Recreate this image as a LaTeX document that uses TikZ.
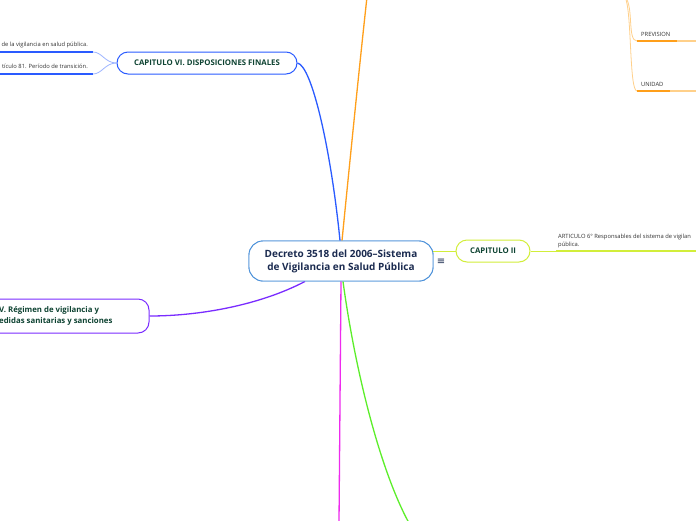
\documentclass[tikz,border=0pt]{standalone}
\usepackage{fontspec}
\setmainfont{Open Sans}
\newfontfamily\symfont{DejaVu Sans}
\definecolor{cblue}{HTML}{4A90D9}
\definecolor{navy}{HTML}{1B2B50}
\definecolor{dgreen}{HTML}{0E4332}
\definecolor{bblue}{HTML}{2A5BFF}
\definecolor{lblue}{HTML}{9DB4FF}
\definecolor{orng}{HTML}{FF9F1A}
\definecolor{lorng}{HTML}{FFD08A}
\definecolor{purp}{HTML}{7A2CFF}
\definecolor{magn}{HTML}{EE2AEE}
\definecolor{grn}{HTML}{5CEE2A}
\definecolor{ygrn}{HTML}{D2EE3A}
\definecolor{tgray}{HTML}{333333}
\tikzset{
  mainbox/.style={draw=cblue, line width=0.9pt, rounded corners=14pt, fill=white,
    minimum width=184pt, minimum height=40pt, align=center, text=navy,
    font=\fontsize{10}{13}\selectfont\bfseries, inner sep=2pt},
  chapbox/.style={rounded corners=11pt, fill=white, line width=1pt,
    text=dgreen, font=\fontsize{7.8}{10}\selectfont\bfseries, inner sep=2pt},
  smalltext/.style={font=\fontsize{5.8}{8}\selectfont, text=tgray, inner sep=0pt, align=left},
  branch/.style={line width=1.3pt},
}
\begin{document}
\begin{tikzpicture}[x=1pt,y=-1pt]
\useasboundingbox[fill=white] (0,0) rectangle (696,520);
% connectors from centre
\coordinate (otop) at (367,-3);
\coordinate (mbot) at (339,523);
\coordinate (gbot) at (409,523);
\node[mainbox] (c) at (341,261) {Decreto 3518 del 2006--Sistema\\de Vigilancia en Salud Pública};
\node[chapbox, draw=ygrn, minimum width=74pt, minimum height=22pt] (cap2) at (493,251) {CAPITULO II};
\node[chapbox, draw=bblue, minimum width=180pt, minimum height=22pt] (cap6) at (207,63) {CAPITULO VI.\ DISPOSICIONES FINALES};
\node[chapbox, draw=purp, minimum width=190pt, minimum height=34pt] (cap5) at (54,316) {};
\node[font=\fontsize{7.8}{11.5}\selectfont\bfseries, text=dgreen, align=left, anchor=west, inner sep=0pt] (cap5t) at (-1,316) {V. Régimen de vigilancia y\\edidas sanitarias y sanciones};

\draw[branch, orng] ([xshift=1pt]c.north) .. controls (350,160) and (360,60) .. (otop);
\draw[branch, bblue] (cap6.east) .. controls (312,66) and (331,150) .. ([xshift=-1pt]c.north);
\draw[branch, purp] (cap5.east) .. controls (200,316) and (260,305) .. ([xshift=-36pt]c.south);
\draw[branch, magn] (c.south) -- (mbot);
\draw[branch, grn] ([xshift=2pt]c.south) .. controls (355,370) and (380,470) .. (gbot);
\draw[ygrn, line width=0.8pt] ([yshift=10pt]c.east) -- (cap2.west);
% redraw centre box over lines
\node[mainbox] at (c) {Decreto 3518 del 2006--Sistema\\de Vigilancia en Salud Pública};
\node[font=\symfont\fontsize{10}{10}\selectfont, text=navy, inner sep=0pt] (menu) at (441,262) {≡};

% CAPITULO II child
\coordinate (a1) at (556,251);
\coordinate (a2) at (697,251);
\draw[ygrn, line width=0.8pt] (cap2.east) -- (a1);
\draw[ygrn, line width=1.5pt] (a1) -- (a2);
\node[smalltext, anchor=south west] (art6) at (558,248) {ARTICULO 6° Responsables del sistema de vigilan\\pública.};

% CAPITULO VI children
\coordinate (u1a) at (-1,52);
\coordinate (u1b) at (93,52);
\coordinate (u2a) at (-1,74);
\coordinate (u2b) at (93,74);
\draw[bblue, line width=1.3pt] (u1a) -- (u1b);
\draw[bblue, line width=1.3pt] (u2a) -- (u2b);
\draw[lblue, line width=0.8pt] (cap6.west) .. controls (105,63) and (102,52) .. (u1b);
\draw[lblue, line width=0.8pt] (cap6.west) .. controls (105,63) and (102,74) .. (u2b);
\node[smalltext, anchor=east] (t61) at (88,45) {de la vigilancia en salud pública.};
\node[smalltext, anchor=east] (t62) at (88,66) {tículo 81. Período de transición.};

% top-right orange branch
\coordinate (ot1) at (625,-3);
\coordinate (p1) at (637,41);
\coordinate (p1b) at (677,41);
\coordinate (p1c) at (697,41);
\coordinate (q1) at (637,91);
\coordinate (q1b) at (670,91);
\coordinate (q1c) at (697,91);
\draw[lorng, line width=0.8pt] (ot1) .. controls (634,6) and (627,41) .. (p1);
\draw[lorng, line width=0.8pt] (ot1) .. controls (632,10) and (629,91) .. (q1);
\draw[orng, line width=1.2pt] (p1) -- (p1b);
\draw[lorng, line width=1.2pt] (p1b) -- (p1c);
\draw[orng, line width=1.2pt] (q1) -- (q1b);
\draw[lorng, line width=1.2pt] (q1b) -- (q1c);
\node[smalltext, anchor=west] (prev) at (641,34) {PREVISION};
\node[smalltext, anchor=west] (unid) at (641,84) {UNIDAD};
\end{tikzpicture}
\end{document}
